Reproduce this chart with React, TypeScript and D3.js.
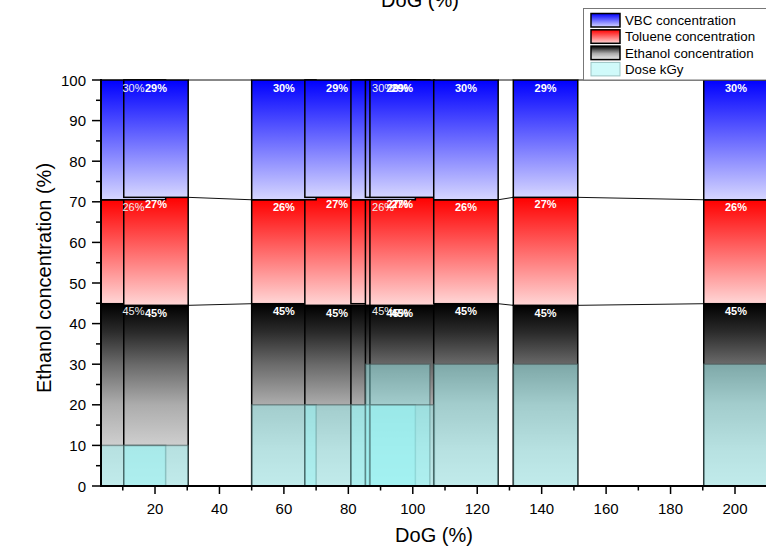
import React from 'react';
import * as d3 from 'd3';

// ---- data ----
const dog = [13.3, 20.3, 60, 76.5, 90.8, 95.3, 96.7, 116.5, 141.2, 200.3];
const ethanol = [44.9, 44.5, 44.9, 44.5, 44.9, 44.5, 44.5, 44.9, 44.5, 44.9];
const toluene = [25.6, 26.6, 25.6, 26.6, 25.6, 26.6, 26.6, 25.6, 26.6, 25.6];
const vbc = [29.5, 28.9, 29.5, 28.9, 29.5, 28.9, 28.9, 29.5, 28.9, 29.5];
const dose = [10, 10, 20, 20, 20, 30, 20, 30, 30, 30];
const barWidth = 20;
const xTicks = [20, 40, 60, 80, 100, 120, 140, 160, 180, 200];
const xMinorTicks = [10, 30, 50, 70, 90, 110, 130, 150, 170, 190, 210];
const yTicks = [0, 10, 20, 30, 40, 50, 60, 70, 80, 90, 100];
const yMinorTicks = [5, 15, 25, 35, 45, 55, 65, 75, 85, 95];
const legendNames = ['VBC concentration', 'Toluene concentration', 'Ethanol concentration', 'Dose kGy'];
const thinLabelBars = [0, 4];

const W = 766;
const H = 547;
const FONT = '"Liberation Sans", Arial, sans-serif';

export default function App() {
  const x = d3.scaleLinear().domain([3.3, 200]).range([101.2, 735]);
  const y = d3.scaleLinear().domain([0, 100]).range([486, 80]);
  const plotLeft = 101;
  const plotTop = 80;
  const plotBottom = 486;

  const n = dog.length;
  const ethTop = ethanol;
  const tolTop = ethanol.map((e, i) => e + toluene[i]);
  const allTop = tolTop.map((t, i) => t + vbc[i]);

  const layers = [
    { key: 'eth', lo: (i: number) => 0, hi: (i: number) => ethTop[i], grad: 'gEth' },
    { key: 'tol', lo: (i: number) => ethTop[i], hi: (i: number) => tolTop[i], grad: 'gTol' },
    { key: 'vbc', lo: (i: number) => tolTop[i], hi: (i: number) => allTop[i], grad: 'gVbc' },
  ];

  const levels = [ethTop, tolTop, allTop];
  const connectors: { x1: number; y1: number; x2: number; y2: number }[] = [];
  levels.forEach((lv) => {
    for (let i = 0; i < n - 1; i++) {
      connectors.push({
        x1: x(dog[i] + barWidth / 2),
        y1: y(lv[i]),
        x2: x(dog[i + 1] - barWidth / 2),
        y2: y(lv[i + 1]),
      });
    }
  });

  const pct = (v: number) => `${Math.round(v)}%`;

  return (
    <svg
      width={W}
      height={H}
      style={{ position: 'absolute', left: 0, top: 0, background: '#fff' }}
      fontFamily={FONT}
    >
      <defs>
        <linearGradient id="gVbc" x1="0" y1="0" x2="0" y2="1">
          <stop offset="0" stopColor="#0000ff" />
          <stop offset="1" stopColor="#d6d6ff" />
        </linearGradient>
        <linearGradient id="gTol" x1="0" y1="0" x2="0" y2="1">
          <stop offset="0" stopColor="#ff0000" />
          <stop offset="1" stopColor="#ffd6d6" />
        </linearGradient>
        <linearGradient id="gEth" x1="0" y1="0" x2="0" y2="1">
          <stop offset="0" stopColor="#000000" />
          <stop offset="0.15" stopColor="#2a2a2a" />
          <stop offset="0.33" stopColor="#6a6a6a" />
          <stop offset="0.55" stopColor="#acacac" />
          <stop offset="0.8" stopColor="#d2d2d2" />
          <stop offset="1" stopColor="#e4e4e4" />
        </linearGradient>
        <clipPath id="plotClip">
          <rect x={plotLeft} y={0} width={W - plotLeft} height={plotBottom} />
        </clipPath>
      </defs>

      <g clipPath="url(#plotClip)">
        {connectors.map((c, i) => (
          <line key={`c${i}`} x1={c.x1} y1={c.y1} x2={c.x2} y2={c.y2} stroke="#111" strokeWidth={1} />
        ))}
        {layers.map((L) => (
          <g key={L.key}>
            {dog.map((d, i) => {
              const x0 = x(d - barWidth / 2);
              const x1 = x(d + barWidth / 2);
              const yTop = y(L.hi(i));
              const yBot = y(L.lo(i));
              return (
                <rect
                  key={i}
                  x={x0}
                  y={yTop}
                  width={x1 - x0}
                  height={yBot - yTop}
                  fill={`url(#${L.grad})`}
                  stroke="#000"
                  strokeWidth={1.5}
                />
              );
            })}
          </g>
        ))}
        {dog.map((d, i) => {
          const x0 = x(d - barWidth / 2);
          const x1 = x(d + barWidth / 2);
          const yTop = y(dose[i]);
          return (
            <rect
              key={`d${i}`}
              x={x0}
              y={yTop}
              width={x1 - x0}
              height={y(0) - yTop}
              fill="rgb(151,244,244)"
              fillOpacity={0.45}
              stroke="rgba(70,90,90,0.55)"
              strokeWidth={1.5}
            />
          );
        })}
        {dog.map((d, i) => {
          const cx = x(d);
          const thin = thinLabelBars.includes(i);
          const style = {
            fill: thin ? '#eeeeee' : '#ffffff',
            fontSize: 11,
            fontWeight: thin ? 400 : 700,
          } as React.CSSProperties;
          return (
            <g key={`l${i}`} textAnchor="middle" style={style}>
              <text x={cx} y={y(allTop[i]) + 11.5}>{pct(vbc[i])}</text>
              <text x={cx} y={y(tolTop[i]) + 11}>{pct(toluene[i])}</text>
              <text x={cx} y={y(ethTop[i]) + 11.5}>{pct(ethanol[i])}</text>
            </g>
          );
        })}
      </g>

      {/* axes */}
      <line x1={plotLeft} y1={plotTop - 1} x2={plotLeft} y2={plotBottom + 1} stroke="#000" strokeWidth={2} />
      <line x1={plotLeft - 1} y1={plotBottom} x2={W} y2={plotBottom} stroke="#000" strokeWidth={2} />
      {yTicks.map((t) => (
        <g key={`yt${t}`}>
          <line x1={plotLeft - 9} x2={plotLeft} y1={y(t)} y2={y(t)} stroke="#000" strokeWidth={1.5} />
          <text x={86} y={y(t) + 5.5} textAnchor="end" fontSize={15} fill="#000">
            {t}
          </text>
        </g>
      ))}
      {yMinorTicks.map((t) => (
        <line key={`ym${t}`} x1={plotLeft - 5} x2={plotLeft} y1={y(t)} y2={y(t)} stroke="#000" strokeWidth={1.5} />
      ))}
      {xTicks.map((t) => (
        <g key={`xt${t}`}>
          <line x1={x(t)} x2={x(t)} y1={plotBottom} y2={plotBottom + 8} stroke="#000" strokeWidth={1.5} />
          <text x={x(t)} y={514} textAnchor="middle" fontSize={15} fill="#000">
            {t}
          </text>
        </g>
      ))}
      {xMinorTicks.map((t) => (
        <line key={`xm${t}`} x1={x(t)} x2={x(t)} y1={plotBottom} y2={plotBottom + 4.5} stroke="#000" strokeWidth={1.5} />
      ))}

      <text x={434} y={542} textAnchor="middle" fontSize={20} fill="#000">
        DoG (%)
      </text>
      <text x={420} y={7} textAnchor="middle" fontSize={20} fill="#000">
        DoG (%)
      </text>
      <text
        transform={`translate(51,278) rotate(-90)`}
        textAnchor="middle"
        fontSize={20}
        fill="#000"
      >
        Ethanol concentration (%)
      </text>

      {/* legend */}
      <g>
        <rect x={583.5} y={8.5} width={200} height={71.5} fill="#fff" stroke="#777" strokeWidth={1} />
        {legendNames.map((name, i) => {
          const fills = ['url(#gVbc)', 'url(#gTol)', 'url(#gEth)', 'rgb(151,244,244)'];
          const isDose = i === 3;
          const yy = 13.5 + i * 16.3;
          return (
            <g key={name}>
              <rect
                x={591}
                y={yy}
                width={29}
                height={13.5}
                fill={fills[i]}
                fillOpacity={isDose ? 0.45 : 1}
                stroke={isDose ? '#9cc4c4' : '#000'}
                strokeWidth={isDose ? 1 : 1.5}
              />
              <text x={625} y={yy + 11.5} fontSize={13.3} fill="#000">
                {name}
              </text>
            </g>
          );
        })}
      </g>
    </svg>
  );
}
